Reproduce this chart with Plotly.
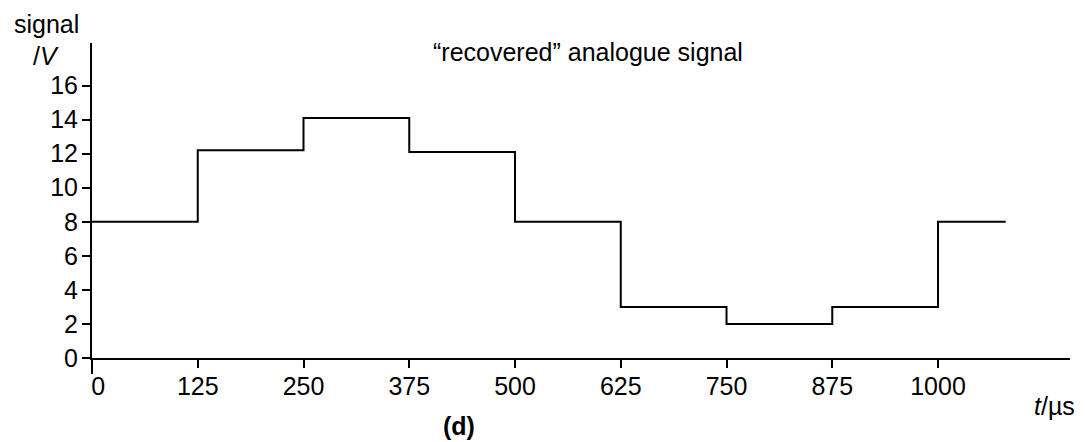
import plotly.graph_objects as go

# sample times (µs) and recovered signal levels (V)
t_steps = [0, 125, 250, 375, 500, 625, 750, 875, 1000]
v_levels = [8, 12.2, 14.1, 12.1, 8, 3, 2, 3, 8]
t_end = 1080

x_ticks = [0, 125, 250, 375, 500, 625, 750, 875, 1000]
x_ticktext = ["\u20020", "125", "250", "375", "500", "625", "750", "875", "1000"]
y_ticks = [0, 2, 4, 6, 8, 10, 12, 14, 16]

fs = 25
font = dict(family="Liberation Sans, Arial", size=fs, color="black")

fig = go.Figure()
fig.add_trace(go.Scatter(
    x=t_steps + [t_end], y=v_levels + [v_levels[-1]],
    mode="lines", line=dict(shape="hv", color="black", width=2),
    showlegend=False, hoverinfo="skip"))

fig.update_layout(
    width=1085, height=442,
    paper_bgcolor="white", plot_bgcolor="white",
    font=font,
    margin=dict(l=92, r=15, t=43, b=84),
    xaxis=dict(range=[0, 1156], tickvals=x_ticks, ticktext=x_ticktext,
               showline=True, linecolor="black", linewidth=2,
               ticks="outside", ticklen=8, tickwidth=2, tickcolor="black",
               ticklabelstandoff=-3,
               showgrid=False, zeroline=False, tickfont=font),
    yaxis=dict(range=[0, 18.5], tickvals=y_ticks,
               showline=True, linecolor="black", linewidth=2,
               ticks="outside", ticklen=8, tickwidth=2, tickcolor="black",
               ticklabelstandoff=-1,
               showgrid=False, zeroline=False, tickfont=font),
)

# y axis extends a little below the time axis
fig.add_shape(type="line", xref="paper", yref="paper",
              x0=0, x1=0, y0=0, y1=-16 / 315,
              line=dict(color="black", width=2))

ann = [
    dict(text="signal", x=12, y=24),
    dict(text="/<i>V</i>", x=31, y=56),
    dict(text="\u201crecovered\u201d analogue signal", x=431, y=52),
]
for a in ann:
    fig.add_annotation(text=a["text"], xref="paper", yref="paper",
                       x=(a["x"] - 92) / 978, y=(358 - a["y"]) / 315,
                       xanchor="left", yanchor="middle", showarrow=False,
                       font=font)
fig.add_annotation(text="<i>t</i>/\u00b5s", xref="paper", yref="paper",
                   x=(1077 - 92) / 978, y=(358 - 406) / 315,
                   xanchor="right", yanchor="middle", showarrow=False, font=font)
fig.add_annotation(text="<b>(d)</b>", xref="paper", yref="paper",
                   x=(459 - 92) / 978, y=(358 - 426) / 315,
                   xanchor="center", yanchor="middle", showarrow=False, font=font)

fig.write_html("out.html", config={"displayModeBar": False},
               post_script="document.body.style.margin='0';")
